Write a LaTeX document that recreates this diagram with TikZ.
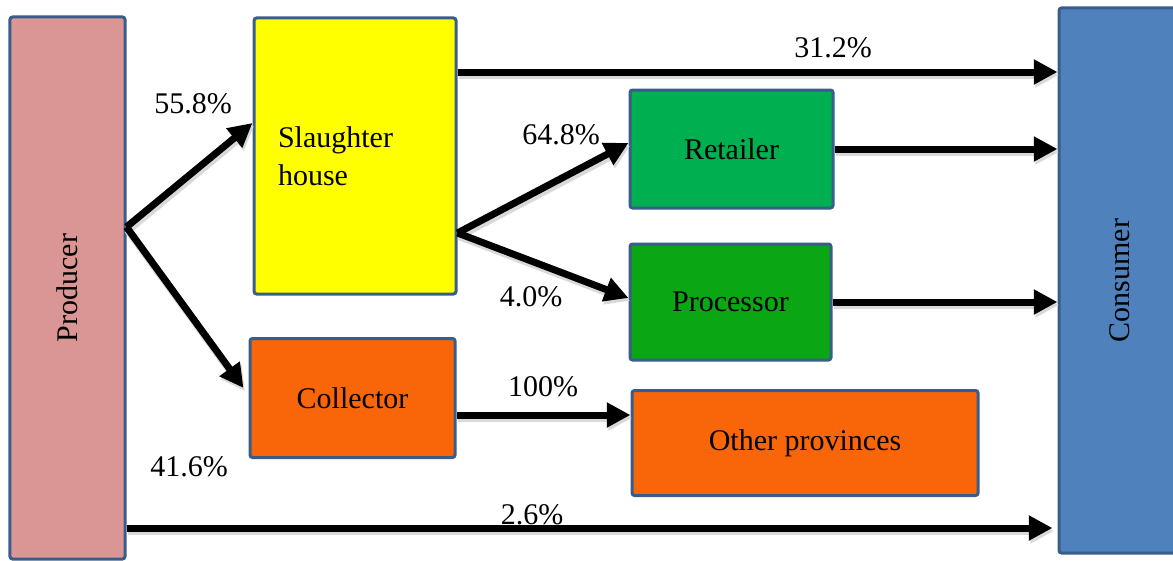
\documentclass[tikz,border=0pt]{standalone}
\usepackage{fontspec}
\setmainfont{Liberation Serif}
\usetikzlibrary{positioning, calc, arrows.meta}
\tikzset{>=latex}
\definecolor{edgeblue}{HTML}{385D8A}
\definecolor{prodpink}{HTML}{D99694}
\definecolor{slyellow}{HTML}{FFFF00}
\definecolor{retgreen}{HTML}{00B050}
\definecolor{procgreen}{HTML}{0AA614}
\definecolor{orangebox}{HTML}{F96609}
\definecolor{consblue}{HTML}{4F81BD}

\begin{document}
\begin{tikzpicture}
    [
        x=0.4pt, y=-0.4pt,
        font=\fontsize{12}{15}\selectfont,
        box_node/.style={rectangle, draw=edgeblue, line width=1.2pt, rounded corners=1pt, inner sep=0pt},
        flow/.style={line width=2.8pt, -{Triangle[length=9.5pt,width=9.5pt]},
            preaction={draw=black!15, line width=3.2pt, transform canvas={shift={(0.6pt,-1.2pt)}}}},
    ]
  \useasboundingbox (0,0) rectangle (1173,560);

  \node[box_node, fill=prodpink, minimum width=216.8pt, minimum height=46pt, rotate=90] (prod) at (67.5,288) {Producer};
  \node[box_node, fill=slyellow, minimum height=110.4pt, text width=61.6pt, inner xsep=9.6pt, align=left] (sl) at (355,156) {Slaughter\\house};
  \node[box_node, fill=retgreen, minimum width=81.2pt, minimum height=47.2pt] (ret) at (731.5,149) {Retailer};
  \node[box_node, fill=procgreen, minimum width=80.4pt, minimum height=46.4pt] (proc) at (730.5,302) {Processor};
  \node[box_node, fill=orangebox, minimum width=82pt, minimum height=47.6pt] (coll) at (352.5,398) {Collector};
  \node[box_node, fill=orangebox, minimum width=138.4pt, minimum height=42pt] (oth) at (805,443) {Other provinces};
  \node[box_node, fill=consblue, minimum width=218pt, minimum height=48.4pt, rotate=90] (cons) at (1119.5,280.5) {Consumer};

  \node (lab558) at (193,104) {55.8\%};
  \node (lab416) at (189,467) {41.6\%};
  \node (lab648) at (561,135) {64.8\%};
  \node (lab40) at (531,297) {4.0\%};
  \node (lab312) at (833,48) {31.2\%};
  \node (lab100) at (543,387) {100\%};
  \node (lab26) at (532,515) {2.6\%};

  \coordinate (pfork) at (prod.south |- 0,227);
  \coordinate (sfork) at (sl.east |- 0,233);

  \draw[flow] (pfork) -- (sl.west |- 0,123);
  \draw[flow] (pfork) -- ([xshift=-2pt]coll.west |- 0,388);
  \draw[flow] (sfork) -- (ret.west |- 0,143);
  \draw[flow] (sfork) -- (proc.west |- 0,298);
  \draw[flow] (sl.east |- 0,72) -- (cons.north |- 0,72);
  \draw[flow] (ret.east) -- (ret.east -| cons.north);
  \draw[flow] (proc.east) -- (proc.east -| cons.north);
  \draw[flow] (coll.east |- 0,415) -- (oth.west |- 0,415);
  \draw[flow] (prod.south |- 0,528) -- ([xshift=-2pt]cons.north |- 0,528);
\end{tikzpicture}
\end{document}
